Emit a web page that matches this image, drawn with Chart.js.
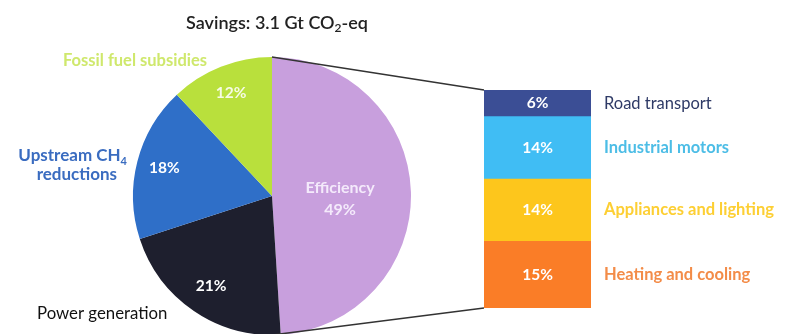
<!DOCTYPE html>
<html><head><meta charset="utf-8">
<script src="https://cdn.jsdelivr.net/npm/chart.js@4.4.1/dist/chart.umd.min.js"></script>
<style>
html,body{margin:0;padding:0;background:#fff;}
#wrap{position:relative;width:791px;height:334px;overflow:hidden;background:#fff;}
canvas{position:absolute;left:0;top:0;}
</style></head><body>
<div id="wrap"><canvas id="pie" width="791" height="334"></canvas><canvas id="bar" width="791" height="334"></canvas></div>
<script>
// ---- data ----
const pieCategories = ['Efficiency', 'Power generation', 'Upstream CH4 reductions', 'Fossil fuel subsidies'];
const pieValues = [49, 21, 18, 12];
const barCategories = ['Heating and cooling', 'Appliances and lighting', 'Industrial motors', 'Road transport'];
const barValues = [15, 14, 14, 6];
const titleParts = ['Savings: 3.1 Gt CO', '2', '-eq'];

// ---- styles ----
const pieColors = ['#c89fdd', '#1e1f2e', '#2f6fc8', '#b9e03c'];
const barColors = ['#fa7d27', '#fdc61c', '#40bdf4', '#3b4e95'];
const barTextColors = ['#f38c48', '#fdcf33', '#4cbde6', '#2e3a66'];
const FONT = 'Lato, "Open Sans", sans-serif';
Chart.defaults.devicePixelRatio = 1;

function drawSub(ctx, parts, x, y, size, weight, align) {
  ctx.font = weight + ' ' + size + 'px ' + FONT;
  const w0 = ctx.measureText(parts[0]).width;
  ctx.font = weight + ' ' + Math.round(size * 0.65) + 'px ' + FONT;
  const w1 = ctx.measureText(parts[1]).width;
  ctx.font = weight + ' ' + size + 'px ' + FONT;
  const w2 = parts[2] ? ctx.measureText(parts[2]).width : 0;
  const total = w0 + w1 + w2;
  let sx = align === 'center' ? x - total / 2 : (align === 'right' ? x - total : x);
  ctx.textAlign = 'left';
  ctx.textBaseline = 'middle';
  ctx.fillText(parts[0], sx, y);
  ctx.font = weight + ' ' + Math.round(size * 0.65) + 'px ' + FONT;
  ctx.fillText(parts[1], sx + w0, y + size * 0.3);
  ctx.font = weight + ' ' + size + 'px ' + FONT;
  if (parts[2]) ctx.fillText(parts[2], sx + w0 + w1, y);
}

const pieLabelPlugin = {
  id: 'pieLabels',
  afterDraw(chart) {
    const ctx = chart.ctx;
    const meta = chart.getDatasetMeta(0);
    const radiusFactor = [0.49, 0.78, 0.8, 0.8];
    const textCols = ['#f4eafb', '#ffffff', '#ffffff', '#f6fbe6'];
    ctx.save();
    meta.data.forEach((arc, i) => {
      const mid = (arc.startAngle + arc.endAngle) / 2;
      const r = arc.outerRadius * radiusFactor[i];
      const x = arc.x + Math.cos(mid) * r;
      const y = arc.y + Math.sin(mid) * r;
      ctx.fillStyle = textCols[i];
      ctx.textAlign = 'center';
      ctx.textBaseline = 'middle';
      if (i === 0) {
        ctx.font = 'bold 16px ' + FONT;
        ctx.fillText('Efficiency', x, y - 6);
        ctx.fillText(pieValues[i] + '%', x, y + 16);
      } else {
        ctx.font = 'bold 15.5px ' + FONT;
        ctx.fillText(pieValues[i] + '%', x, y);
      }
    });
    // outside labels
    ctx.fillStyle = '#cfe86c';
    ctx.font = 'bold 16.5px ' + FONT;
    ctx.textAlign = 'center';
    ctx.textBaseline = 'middle';
    ctx.fillText(pieCategories[3], 135, 61);
    ctx.fillStyle = '#3a6cc0';
    drawSub(ctx, ['Upstream CH', '4', ''], 127, 156, 17, 'bold', 'right');
    ctx.font = 'bold 17px ' + FONT;
    ctx.textAlign = 'right';
    ctx.fillText('reductions', 117, 175);
    ctx.fillStyle = '#111111';
    ctx.font = '16.8px ' + FONT;
    ctx.textAlign = 'left';
    ctx.fillText(pieCategories[1], 37, 314);
    // title
    ctx.fillStyle = '#222222';
    drawSub(ctx, titleParts, 277, 23, 18, '600', 'center');
    ctx.restore();
  }
};

const pieChart = new Chart(document.getElementById('pie'), {
  type: 'pie',
  data: {
    labels: pieCategories,
    datasets: [{ data: pieValues, backgroundColor: pieColors, borderWidth: 0 }]
  },
  options: {
    responsive: false,
    animation: false,
    radius: 139,
    layout: { padding: { left: 133, right: 380, top: 58, bottom: 0 } },
    plugins: { legend: { display: false }, tooltip: { enabled: false }, title: { display: false } }
  },
  plugins: [pieLabelPlugin]
});

const barLabelPlugin = {
  id: 'barLabels',
  afterDraw(chart) {
    const ctx = chart.ctx;
    ctx.save();
    const arc = pieChart.getDatasetMeta(0).data[0];
    const topBar = chart.getDatasetMeta(barValues.length - 1).data[0];
    const botBar = chart.getDatasetMeta(0).data[0];
    const leftX = topBar.x - topBar.width / 2;
    ctx.strokeStyle = '#333333';
    ctx.lineWidth = 1.5;
    ctx.beginPath();
    ctx.moveTo(arc.x, arc.y - arc.outerRadius);
    ctx.lineTo(leftX, topBar.y);
    ctx.moveTo(arc.x, arc.y + arc.outerRadius);
    ctx.lineTo(leftX, botBar.base);
    ctx.stroke();
    barValues.forEach((v, i) => {
      const el = chart.getDatasetMeta(i).data[0];
      const cy = (el.y + el.base) / 2;
      ctx.fillStyle = '#ffffff';
      ctx.font = 'bold 15.5px ' + FONT;
      ctx.textAlign = 'center';
      ctx.textBaseline = 'middle';
      ctx.fillText(v + '%', el.x, cy);
      ctx.fillStyle = barTextColors[i];
      ctx.font = (i === barValues.length - 1 ? 'normal ' : 'bold ') + '16.5px ' + FONT;
      ctx.textAlign = 'left';
      ctx.fillText(barCategories[i], 604, cy);
    });
    ctx.restore();
  }
};

new Chart(document.getElementById('bar'), {
  type: 'bar',
  data: {
    labels: ['Efficiency'],
    datasets: barValues.map((v, i) => ({
      label: barCategories[i],
      data: [v],
      backgroundColor: barColors[i],
      borderWidth: 0,
      barPercentage: 1,
      categoryPercentage: 1
    }))
  },
  options: {
    responsive: false,
    animation: false,
    layout: { padding: { left: 484, right: 200, top: 90, bottom: 26 } },
    scales: {
      x: { stacked: true, display: false },
      y: { stacked: true, display: false, min: 0, max: 49 }
    },
    plugins: { legend: { display: false }, tooltip: { enabled: false } }
  },
  plugins: [barLabelPlugin]
});
</script>
</body></html>
